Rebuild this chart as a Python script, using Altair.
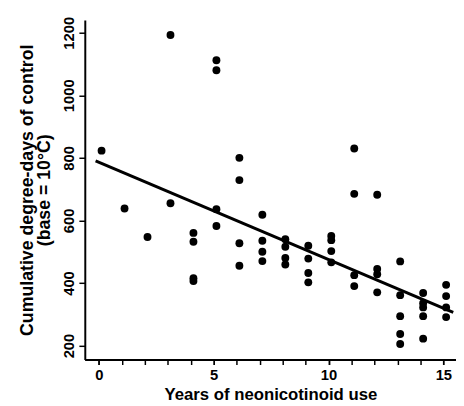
import altair as alt
import pandas as pd

# Years of neonicotinoid use (plotted slightly right of integer years, as in the original)
years = [0, 1, 2, 3, 3,
         4, 4, 4, 4,
         5, 5, 5, 5,
         6, 6, 6, 6,
         7, 7, 7, 7,
         8, 8, 8, 8,
         9, 9, 9, 9,
         10, 10, 10, 10,
         11, 11, 11, 11,
         12, 12, 12, 12,
         13, 13, 13, 13, 13,
         14, 14, 14, 14, 14,
         15, 15, 15, 15]
degree_days = [823, 638, 547, 1193, 655,
               560, 532, 415, 406,
               1112, 1080, 636, 582,
               800, 729, 527, 455,
               618, 535, 500, 470,
               540, 516, 480, 459,
               519, 478, 432, 402,
               550, 537, 502, 466,
               830, 685, 425, 390,
               682, 445, 428, 370,
               469, 361, 294, 237, 205,
               368, 335, 322, 294, 222,
               394, 358, 322, 291]
X_SHIFT = 0.12
# fitted regression line
fit_intercept = 786.0
fit_slope = -31.1
line_extent = [-0.14, 15.43]
x_major = [0, 5, 10, 15]
x_minor = list(range(0, 16))
y_ticks = [200, 400, 600, 800, 1000, 1200]

pts = pd.DataFrame({"x": [v + X_SHIFT for v in years], "y": degree_days})
line_df = pd.DataFrame({"x": line_extent,
                        "y": [fit_intercept + fit_slope * v for v in line_extent]})

FONT = "Liberation Sans"
xscale = alt.Scale(domain=[-0.61, 15.55], nice=False, zero=False)
yscale = alt.Scale(domain=[155, 1241], nice=False, zero=False)

xaxis = alt.Axis(values=x_major, orient="bottom", labelOverlap=False,
                 title="Years of neonicotinoid use", grid=False,
                 domainColor="black", domainWidth=2, tickColor="black", tickWidth=1.5,
                 tickSize=5, labelFont=FONT, labelFontSize=15, labelFontWeight="bold",
                 labelColor="black", labelPadding=3, titleFont=FONT, titleFontSize=17,
                 titleFontWeight="bold", titleColor="black", titlePadding=5, labelFlush=False)
xaxis_minor = alt.Axis(values=x_minor, orient="bottom", labels=False, title=None,
                       grid=False, domainColor="black", domainWidth=2, tickColor="black",
                       tickWidth=1.5, tickSize=5)
yaxis = alt.Axis(values=y_ticks, format="d", labelOverlap=False,
                 title=["Cumulative degree-days of control", "(base = 10°C)"],
                 grid=False, domainColor="black", domainWidth=2, tickColor="black",
                 tickWidth=1.5, tickSize=6, labelAngle=270, labelAlign="center",
                 labelBaseline="bottom", labelFont=FONT, labelFontSize=15,
                 labelFontWeight="bold", labelColor="black", labelPadding=2,
                 titleFont=FONT, titleFontSize=18, titleFontWeight="bold",
                 titleColor="black", titlePadding=9, titleLineHeight=17.5, labelFlush=False)

points = alt.Chart(pts).mark_circle(size=64, color="black", opacity=1).encode(
    x=alt.X("x:Q", scale=xscale, axis=xaxis),
    y=alt.Y("y:Q", scale=yscale, axis=yaxis),
)
line = alt.Chart(line_df).mark_line(color="black", strokeWidth=3).encode(
    x=alt.X("x:Q", scale=xscale, axis=xaxis_minor),
    y=alt.Y("y:Q", scale=yscale),
)

chart = (points + line).resolve_axis(x="independent").properties(
    width=377, height=345,
    autosize=alt.AutoSizeParams(type="none"),
    padding={"left": 78, "top": 9, "right": 0, "bottom": 44},
).configure_view(stroke=None)

chart.save("out.html", embed_options={"renderer": "svg", "actions": False})
